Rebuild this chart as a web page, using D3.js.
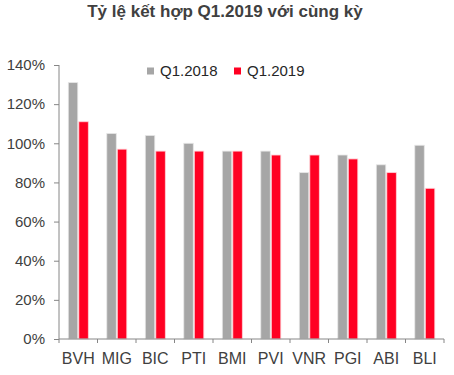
<!DOCTYPE html>
<html>
<head>
<meta charset="utf-8">
<script src="https://cdn.jsdelivr.net/npm/d3@7"></script>
<style>
  body { margin: 0; background: #fff; }
  text { font-family: "Liberation Sans", Arial, sans-serif; }
</style>
</head>
<body>
<div id="chart-area"></div>
<script>
// Data
var categories = ["BVH", "MIG", "BIC", "PTI", "BMI", "PVI", "VNR", "PGI", "ABI", "BLI"];
var q2018 = [131, 105, 104, 100, 96, 96, 85, 94, 89, 99];
var q2019 = [111, 97, 96, 96, 96, 94, 94, 92, 85, 77];
var seriesNames = ["Q1.2018", "Q1.2019"];
var yTicks = [0, 20, 40, 60, 80, 100, 120, 140];

var colors = ["#A6A6A6", "#FF0022"];

// Chart config
var width = 454, height = 375;
var margin = {top: 65, right: 10, bottom: 36, left: 59};
var innerW = 444 - margin.left;
var innerH = 339 - margin.top;

var svg = d3.select("#chart-area").append("svg")
    .attr("width", width)
    .attr("height", height);

svg.append("text")
    .attr("x", 225)
    .attr("y", 17)
    .attr("text-anchor", "middle")
    .style("font-size", "17px")
    .style("font-weight", "bold")
    .style("fill", "#404040")
    .text("Tỷ lệ kết hợp Q1.2019 với cùng kỳ");

var g = svg.append("g")
    .attr("transform", "translate(" + margin.left + "," + margin.top + ")");

var xScale = d3.scaleBand().domain(categories).range([0, innerW]);
var xInner = d3.scaleBand().domain(seriesNames).range([9.3, 29.3]).paddingInner(0.1);
var yScale = d3.scaleLinear().domain([0, 140]).range([innerH, 0]);

// bars
var rows = categories.map(function(c, i) { return {cat: c, vals: [q2018[i], q2019[i]]}; });

g.selectAll(".grp")
    .data(rows)
    .enter().append("g")
    .attr("transform", function(d) { return "translate(" + xScale(d.cat) + ",0)"; })
    .selectAll("rect")
    .data(function(d) { return d.vals.map(function(v, j) { return {s: seriesNames[j], v: v, j: j}; }); })
    .enter().append("rect")
    .attr("x", function(d) { return xInner(d.s); })
    .attr("width", xInner.bandwidth())
    .attr("y", function(d) { return yScale(d.v); })
    .attr("height", function(d) { return innerH - yScale(d.v); })
    .style("fill", function(d) { return colors[d.j]; })
    .style("stroke", function(d) { return d.j ? "#FFD0D6" : "#E6E6E6"; })
    .style("stroke-width", "0.8px");

// axes
var yAxis = d3.axisLeft(yScale)
    .tickValues(yTicks)
    .tickSize(5)
    .tickPadding(9)
    .tickFormat(function(d) { return d + "%"; });

var yAxisEl = g.append("g").call(yAxis);

var xAxis = d3.axisBottom(xScale).tickSize(0).tickPadding(14);
var xAxisEl = g.append("g")
    .attr("transform", "translate(0," + innerH + ")")
    .call(xAxis);

// x tick marks at band edges
xAxisEl.selectAll(".edge")
    .data(categories.concat(["_end"]))
    .enter().append("line")
    .attr("x1", function(d, i) { return i * xScale.step(); })
    .attr("x2", function(d, i) { return i * xScale.step(); })
    .attr("y1", 0)
    .attr("y2", 4)
    .attr("stroke", "#868686");

[yAxisEl, xAxisEl].forEach(function(a) {
    a.selectAll("path.domain").attr("stroke", "#868686");
    a.selectAll(".tick line").attr("stroke", "#868686");
    a.selectAll("text")
        .style("font-size", "15px")
        .style("font-family", "'Liberation Sans', Arial, sans-serif")
        .style("fill", "#404040");
});
xAxisEl.selectAll("text").style("font-size", "16px");
yAxisEl.select("path.domain").attr("d", "M0,0V" + innerH);
xAxisEl.select("path.domain").attr("d", "M0,0H" + innerW);

// legend
var legend = svg.append("g").attr("transform", "translate(147,71)");
var legendX = [0, 87];
seriesNames.forEach(function(name, i) {
    var lg = legend.append("g").attr("transform", "translate(" + legendX[i] + ",0)");
    lg.append("rect")
        .attr("x", 0).attr("y", -3.5)
        .attr("width", 7).attr("height", 7)
        .style("fill", colors[i]);
    lg.append("text")
        .attr("x", 13).attr("y", 4.5)
        .style("font-size", "15px")
        .style("fill", "#262626")
        .text(name);
});
</script>
</body>
</html>
